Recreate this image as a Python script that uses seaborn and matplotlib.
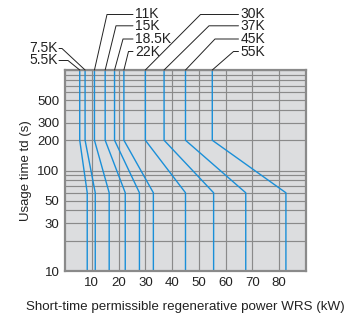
import numpy as np
import pandas as pd
import matplotlib
matplotlib.use('Agg')
import matplotlib.pyplot as plt
import matplotlib.transforms as mtransforms
import seaborn as sns

# inverter models and their curves
models = ['5.5K', '7.5K', '11K', '15K', '18.5K', '22K', '30K', '37K', '45K', '55K']
power_long = [5.5, 7.5, 11, 15, 18.5, 22, 30, 37, 45, 55]          # kW for td >= 200 s
power_short = [8.3, 11.3, 16.5, 22.5, 27.8, 33, 45, 55.5, 67.5, 82.5]  # kW for td <= 60 s
t_top = 1000
t_knee_hi = 200
t_knee_lo = 60
t_bottom = 10

y_tick_vals = [10, 30, 50, 100, 200, 300, 500]
y_minor_vals = [20, 40, 60, 70, 80, 90, 400, 600, 700, 800, 900, 1000]
x_tick_vals = [10, 20, 30, 40, 50, 60, 70, 80]

rows = []
for m, p1, p2 in zip(models, power_long, power_short):
    rows.append((m, p1, t_top))
    rows.append((m, p1, t_knee_hi))
    rows.append((m, p2, t_knee_lo))
    rows.append((m, p2, t_bottom))
df = pd.DataFrame(rows, columns=['model', 'power', 'time'])

sns.set_style('white')
plt.rcParams['font.family'] = ['Liberation Sans', 'DejaVu Sans']
plt.rcParams['font.size'] = 9

W, H = 345, 313
fig = plt.figure(figsize=(W / 100, H / 100), dpi=100)
ax = fig.add_axes([65 / W, 1 - 271 / H, 241 / W, 201 / H])
ax.set_facecolor('#dcdddf')

sns.lineplot(data=df, x='power', y='time', units='model', estimator=None,
             sort=False, color='#1a8fd8', linewidth=1.0, ax=ax, legend=False)

ax.set_yscale('log')
ax.set_xlim(0, 90)
ax.set_ylim(10, 1000)
ax.set_xticks(x_tick_vals)
ax.set_xticklabels([str(v) for v in x_tick_vals])
ax.set_yticks(y_tick_vals)
ax.set_yticklabels([str(v) for v in y_tick_vals])
ax.set_yticks(y_minor_vals, minor=True)
ax.set_yticklabels([], minor=True)
ax.tick_params(which='both', length=0, colors='#222222', labelsize=9.5)
ax.tick_params(axis='y', pad=4)
ax.tick_params(axis='x', pad=4)
ax.grid(True, which='both', color='#8a8a8a', linewidth=0.85)
ax.set_axisbelow(True)
for s in ax.spines.values():
    s.set_color('#8a8a8a')
    s.set_linewidth(1.6)

ax.set_xlabel('Short-time permissible regenerative power WRS (kW)', fontsize=9.6,
              color='#222222', labelpad=9)
ax.set_ylabel('Usage time td (s)', fontsize=9.5, color='#222222', labelpad=4)

# callout labels: text x, text y, elbow x (image pixels), alignment
callouts = {
    '5.5K': (58, 60.5, 68, 'right'),
    '7.5K': (58, 48.5, 62, 'right'),
    '11K': (135, 14.5, 107, 'left'),
    '15K': (135, 25.8, 116, 'left'),
    '18.5K': (135, 39.0, 123, 'left'),
    '22K': (135, 51.5, 128.5, 'left'),
    '30K': (240.5, 14.5, 200.5, 'left'),
    '37K': (240.5, 25.8, 209, 'left'),
    '45K': (240.5, 39.0, 215, 'left'),
    '55K': (240.5, 51.5, 233.5, 'left'),
}
fig.canvas.draw()
ident = mtransforms.IdentityTransform()
for m, p1 in zip(models, power_long):
    tx, ty, ex, ha = callouts[m]
    ax_x, ax_y = ax.transData.transform((p1, t_top))
    if ha == 'left':
        lx = [ax_x, ex, tx - 2]
    else:
        lx = [ax_x, ex, tx + 1]
    ly = [ax_y, H - ty, H - ty]
    fig.add_artist(plt.Line2D(lx, ly, transform=ident, color='#222222', linewidth=0.7))
    fig.text(tx / W, 1 - ty / H, m, ha=ha, va='center', fontsize=10, color='#222222')

fig.savefig('out.png', dpi=100, facecolor='white')
